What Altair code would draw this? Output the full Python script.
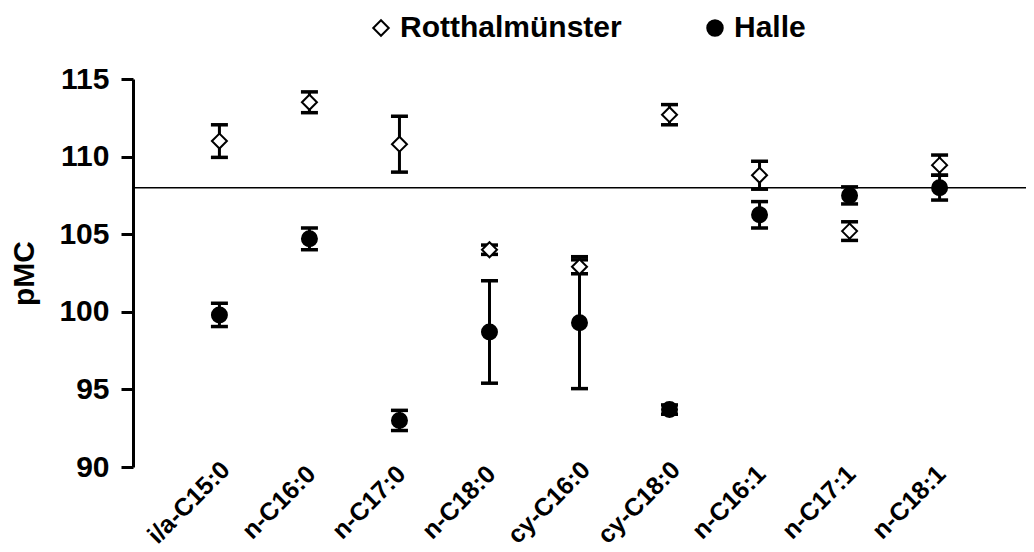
import altair as alt
import pandas as pd

categories = ["i/a-C15:0", "n-C16:0", "n-C17:0", "n-C18:0", "cy-C16:0",
              "cy-C18:0", "n-C16:1", "n-C17:1", "n-C18:1"]
series = ["Rotthalmünster", "Halle"]
rott_mean = [111.0, 113.5, 110.8, 104.0, 102.9, 112.7, 108.8, 105.2, 109.45]
rott_err = [1.05, 0.67, 1.8, 0.3, 0.45, 0.65, 0.9, 0.6, 0.65]
halle_mean = [99.8, 104.7, 93.0, 98.7, 99.3, 93.7, 106.25, 107.5, 108.0]
halle_err = [0.75, 0.7, 0.65, 3.3, 4.25, 0.3, 0.85, 0.55, 0.8]
reference_level = [108.0]
y_ticks = [90, 95, 100, 105, 110, 115]

rows = []
for name, means, errs in [("Halle", halle_mean, halle_err),
                          ("Rotthalmünster", rott_mean, rott_err)]:
    for c, m, e in zip(categories, means, errs):
        rows.append({"cat": c, "series": name, "mean": m,
                     "lo": m - e, "hi": m + e})
df = pd.DataFrame(rows)
ref_df = pd.DataFrame({"level": reference_level})

FONT = "Liberation Sans"

x_enc = alt.X("cat:N", sort=categories,
              scale=alt.Scale(type="point", padding=0.96),
              axis=alt.Axis(title=None, domain=False, ticks=False, tickSize=0,
                            grid=False,
                            labelAngle=-45, labelAlign="center",
                            labelBaseline="middle", labelPadding=35,
                            labelOffset=-31,
                            labelFontSize=25, labelFont=FONT, labelLimit=400,
                            labelFontWeight="bold", labelColor="black"))
y_scale = alt.Scale(domain=[90, 115], zero=False, nice=False)
y_axis = alt.Axis(title="pMC", values=y_ticks, grid=False,
                  domainColor="black", domainWidth=3,
                  tickColor="black", tickWidth=3, tickSize=12,
                  labelFontSize=30, labelFont=FONT, labelFontWeight="bold",
                  labelColor="black", labelPadding=12,
                  titleFontSize=30, titleFont=FONT, titleFontWeight="bold",
                  titleColor="black", titlePadding=19)

base = alt.Chart(df)

ref = alt.Chart(ref_df).mark_rule(color="black", strokeWidth=1.5).encode(
    y=alt.Y("level:Q", scale=y_scale, axis=y_axis)
)

bars = base.mark_rule(color="black", strokeWidth=3).encode(
    x=x_enc,
    y=alt.Y("lo:Q", scale=y_scale, axis=y_axis),
    y2="hi:Q",
)
cap_lo = base.mark_tick(color="black", size=17, thickness=3.5, opacity=1).encode(
    x=x_enc, y=alt.Y("lo:Q", scale=y_scale, axis=y_axis)
)
cap_hi = base.mark_tick(color="black", size=17, thickness=3.5, opacity=1).encode(
    x=x_enc, y=alt.Y("hi:Q", scale=y_scale, axis=y_axis)
)

legend = alt.Legend(title=None, orient="none", legendX=233, legendY=-66,
                    direction="horizontal", labelFontSize=30, labelFont=FONT,
                    labelFontWeight="bold", labelColor="black", labelLimit=500,
                    symbolSize=240, symbolStrokeColor="black",
                    symbolStrokeWidth=2, labelOffset=4, columnPadding=78)

points = base.mark_point(filled=False, size=225, stroke="black",
                         strokeWidth=2, opacity=1, fillOpacity=1).encode(
    x=x_enc,
    y=alt.Y("mean:Q", scale=y_scale, axis=y_axis),
    shape=alt.Shape("series:N",
                    scale=alt.Scale(domain=series, range=["diamond", "circle"]),
                    legend=legend),
    fill=alt.Fill("series:N",
                  scale=alt.Scale(domain=series, range=["white", "black"]),
                  legend=legend),
    stroke=alt.Stroke("series:N",
                      scale=alt.Scale(domain=series, range=["black", "black"]),
                      legend=legend),
)

chart = alt.layer(ref, bars, cap_lo, cap_hi, points).properties(
    width=893, height=388,
    padding={"left": 125, "top": 71, "right": 0, "bottom": 84},
    autosize=alt.AutoSizeParams(type="none"),
    background="white",
).configure_view(stroke=None).configure_axis(grid=False)

chart.save("out.html", embed_options={"renderer": "svg", "actions": False})
